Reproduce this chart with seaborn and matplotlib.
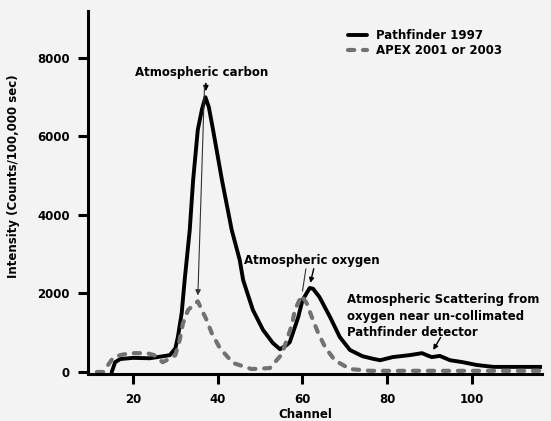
import numpy as np
import pandas as pd
import seaborn as sns
import matplotlib
matplotlib.use("Agg")
import matplotlib.pyplot as plt
from matplotlib.lines import Line2D

# Pathfinder 1997 (solid)
pf_channel = [15.0, 15.8, 17, 20, 24, 27, 28.7, 30, 30.6, 31.5, 32.2, 33.4, 34.2, 35.3,
              36.3, 37.1, 37.9, 38.9, 41, 43.3, 45.2, 46, 48.3, 50.7, 53, 54.7, 56.3,
              57, 59, 60, 61.7, 62.5, 64, 66.5, 68.8, 71.2, 74.2, 76.5, 78.3, 81.3,
              85.3, 88.2, 89.5, 90.5, 92.4, 94.8, 97.8, 101, 105, 110, 116.5]
pf_counts = [0, 250, 330, 360, 350, 400, 430, 600, 890, 1500, 2340, 3620, 4890, 6170,
             6700, 7000, 6750, 6170, 4890, 3620, 2850, 2340, 1580, 1070, 740, 580, 690,
             760, 1400, 1830, 2140, 2120, 1910, 1400, 890, 560, 400, 340, 300, 380,
             430, 480, 420, 380, 410, 300, 250, 180, 130, 130, 130]

# APEX 2001 or 2003 (dashed)
apex_channel = [11.5, 13, 15.3, 17, 19.3, 23.3, 25, 27, 28.5, 30, 31, 31.8, 33, 35.3,
                37.4, 38.6, 40.5, 43.6, 48, 52.3, 55.1, 56.3, 57.5, 58.2, 59.8, 61,
                62.2, 63.6, 65.3, 67.6, 71.2, 76, 85, 95, 105, 116]
apex_counts = [0, 0, 360, 430, 480, 480, 430, 250, 330, 430, 800, 1240, 1580, 1800,
               1320, 990, 610, 230, 75, 100, 450, 820, 1200, 1580, 1950, 1750,
               1400, 1020, 640, 300, 75, 30, 30, 30, 30, 30]

x_ticks = [20, 40, 60, 80, 100]
y_ticks = [0, 2000, 4000, 6000, 8000]

sns.set_style("ticks")
plt.rcParams['font.family'] = ['DejaVu Sans']
plt.rcParams['font.weight'] = 'bold'
plt.rcParams['text.color'] = 'black'
plt.rcParams['axes.labelcolor'] = 'black'
plt.rcParams['xtick.color'] = 'black'
plt.rcParams['ytick.color'] = 'black'
plt.rcParams['axes.edgecolor'] = 'black'
fs = 8.5
bg = '#f3f3f3'
dash_col = '#727272'

fig = plt.figure(figsize=(5.51, 4.21), dpi=100, facecolor=bg)
ax = fig.add_axes([88/551, 1 - 374/421, 454/551, 363/421])
ax.set_facecolor(bg)

sns.lineplot(x=pf_channel, y=pf_counts, ax=ax, color='black', linewidth=2.8,
             estimator=None, sort=False)
sns.lineplot(x=apex_channel, y=apex_counts, ax=ax, color=dash_col, linewidth=3.0,
             linestyle=(0, (1.5, 2.1)), dash_capstyle='round',
             estimator=None, sort=False)

ax.set_xlim(9.4, 116.5)
ax.set_ylim(-51, 9197)
ax.set_xticks(x_ticks)
ax.set_yticks(y_ticks)
ax.tick_params(axis='both', direction='out', width=2.2, length=7, labelsize=fs)
ax.tick_params(axis='x', pad=7)
ax.tick_params(axis='y', pad=6)
for lab in ax.get_xticklabels() + ax.get_yticklabels():
    lab.set_fontweight('bold')
sns.despine(ax=ax)
for s in ['left', 'bottom']:
    ax.spines[s].set_linewidth(2.2)

ax.set_xlabel("Channel", fontsize=fs, fontweight='bold')
ax.xaxis.set_label_coords(0.478, -0.093)
ax.set_ylabel("Intensity (Counts/100,000 sec)", fontsize=fs, fontweight='bold')
ax.yaxis.set_label_coords(-0.150, 0.545)

# annotations
ax.text(36.3, 7618, "Atmospheric carbon", ha='center', va='center', fontsize=fs, fontweight='bold')
ax.annotate("", xy=(37.2, 7080), xytext=(37.2, 7420),
            arrowprops=dict(arrowstyle='-|>', color='k', lw=1.2, mutation_scale=7))
ax.annotate("", xy=(35.3, 1880), xytext=(36.9, 7350),
            arrowprops=dict(arrowstyle='-|>', color='#333333', lw=0.8, mutation_scale=8))

ax.text(62.2, 2830, "Atmospheric oxygen", ha='center', va='center', fontsize=fs, fontweight='bold')
ax.annotate("", xy=(61.7, 2200), xytext=(62.8, 2700),
            arrowprops=dict(arrowstyle='-|>', color='k', lw=1.0, mutation_scale=7))
ax.annotate("", xy=(59.9, 1990), xytext=(60.9, 2700),
            arrowprops=dict(arrowstyle='-', color='#333333', lw=0.8))

ax.text(70.5, 2000, "Atmospheric Scattering from\noxygen near un-collimated\nPathfinder detector",
        ha='left', va='top', fontsize=fs, fontweight='bold', linespacing=1.35)
ax.annotate("", xy=(90.5, 500), xytext=(92.9, 940),
            arrowprops=dict(arrowstyle='-|>', color='k', lw=1.0, mutation_scale=7))

handles = [Line2D([], [], color='black', lw=2.8),
           Line2D([], [], color=dash_col, lw=3.0, linestyle=(0, (1.5, 2.1)), dash_capstyle='round')]
fig.legend(handles, ["Pathfinder 1997", "APEX 2001 or 2003"], loc='upper left',
           bbox_to_anchor=(342/551, 1 - 23/421), frameon=False, borderpad=0,
           handlelength=1.6, handletextpad=0.75, labelspacing=0.15,
           prop={'size': fs, 'weight': 'bold'})

fig.savefig("out.png", dpi=100, facecolor=bg)
